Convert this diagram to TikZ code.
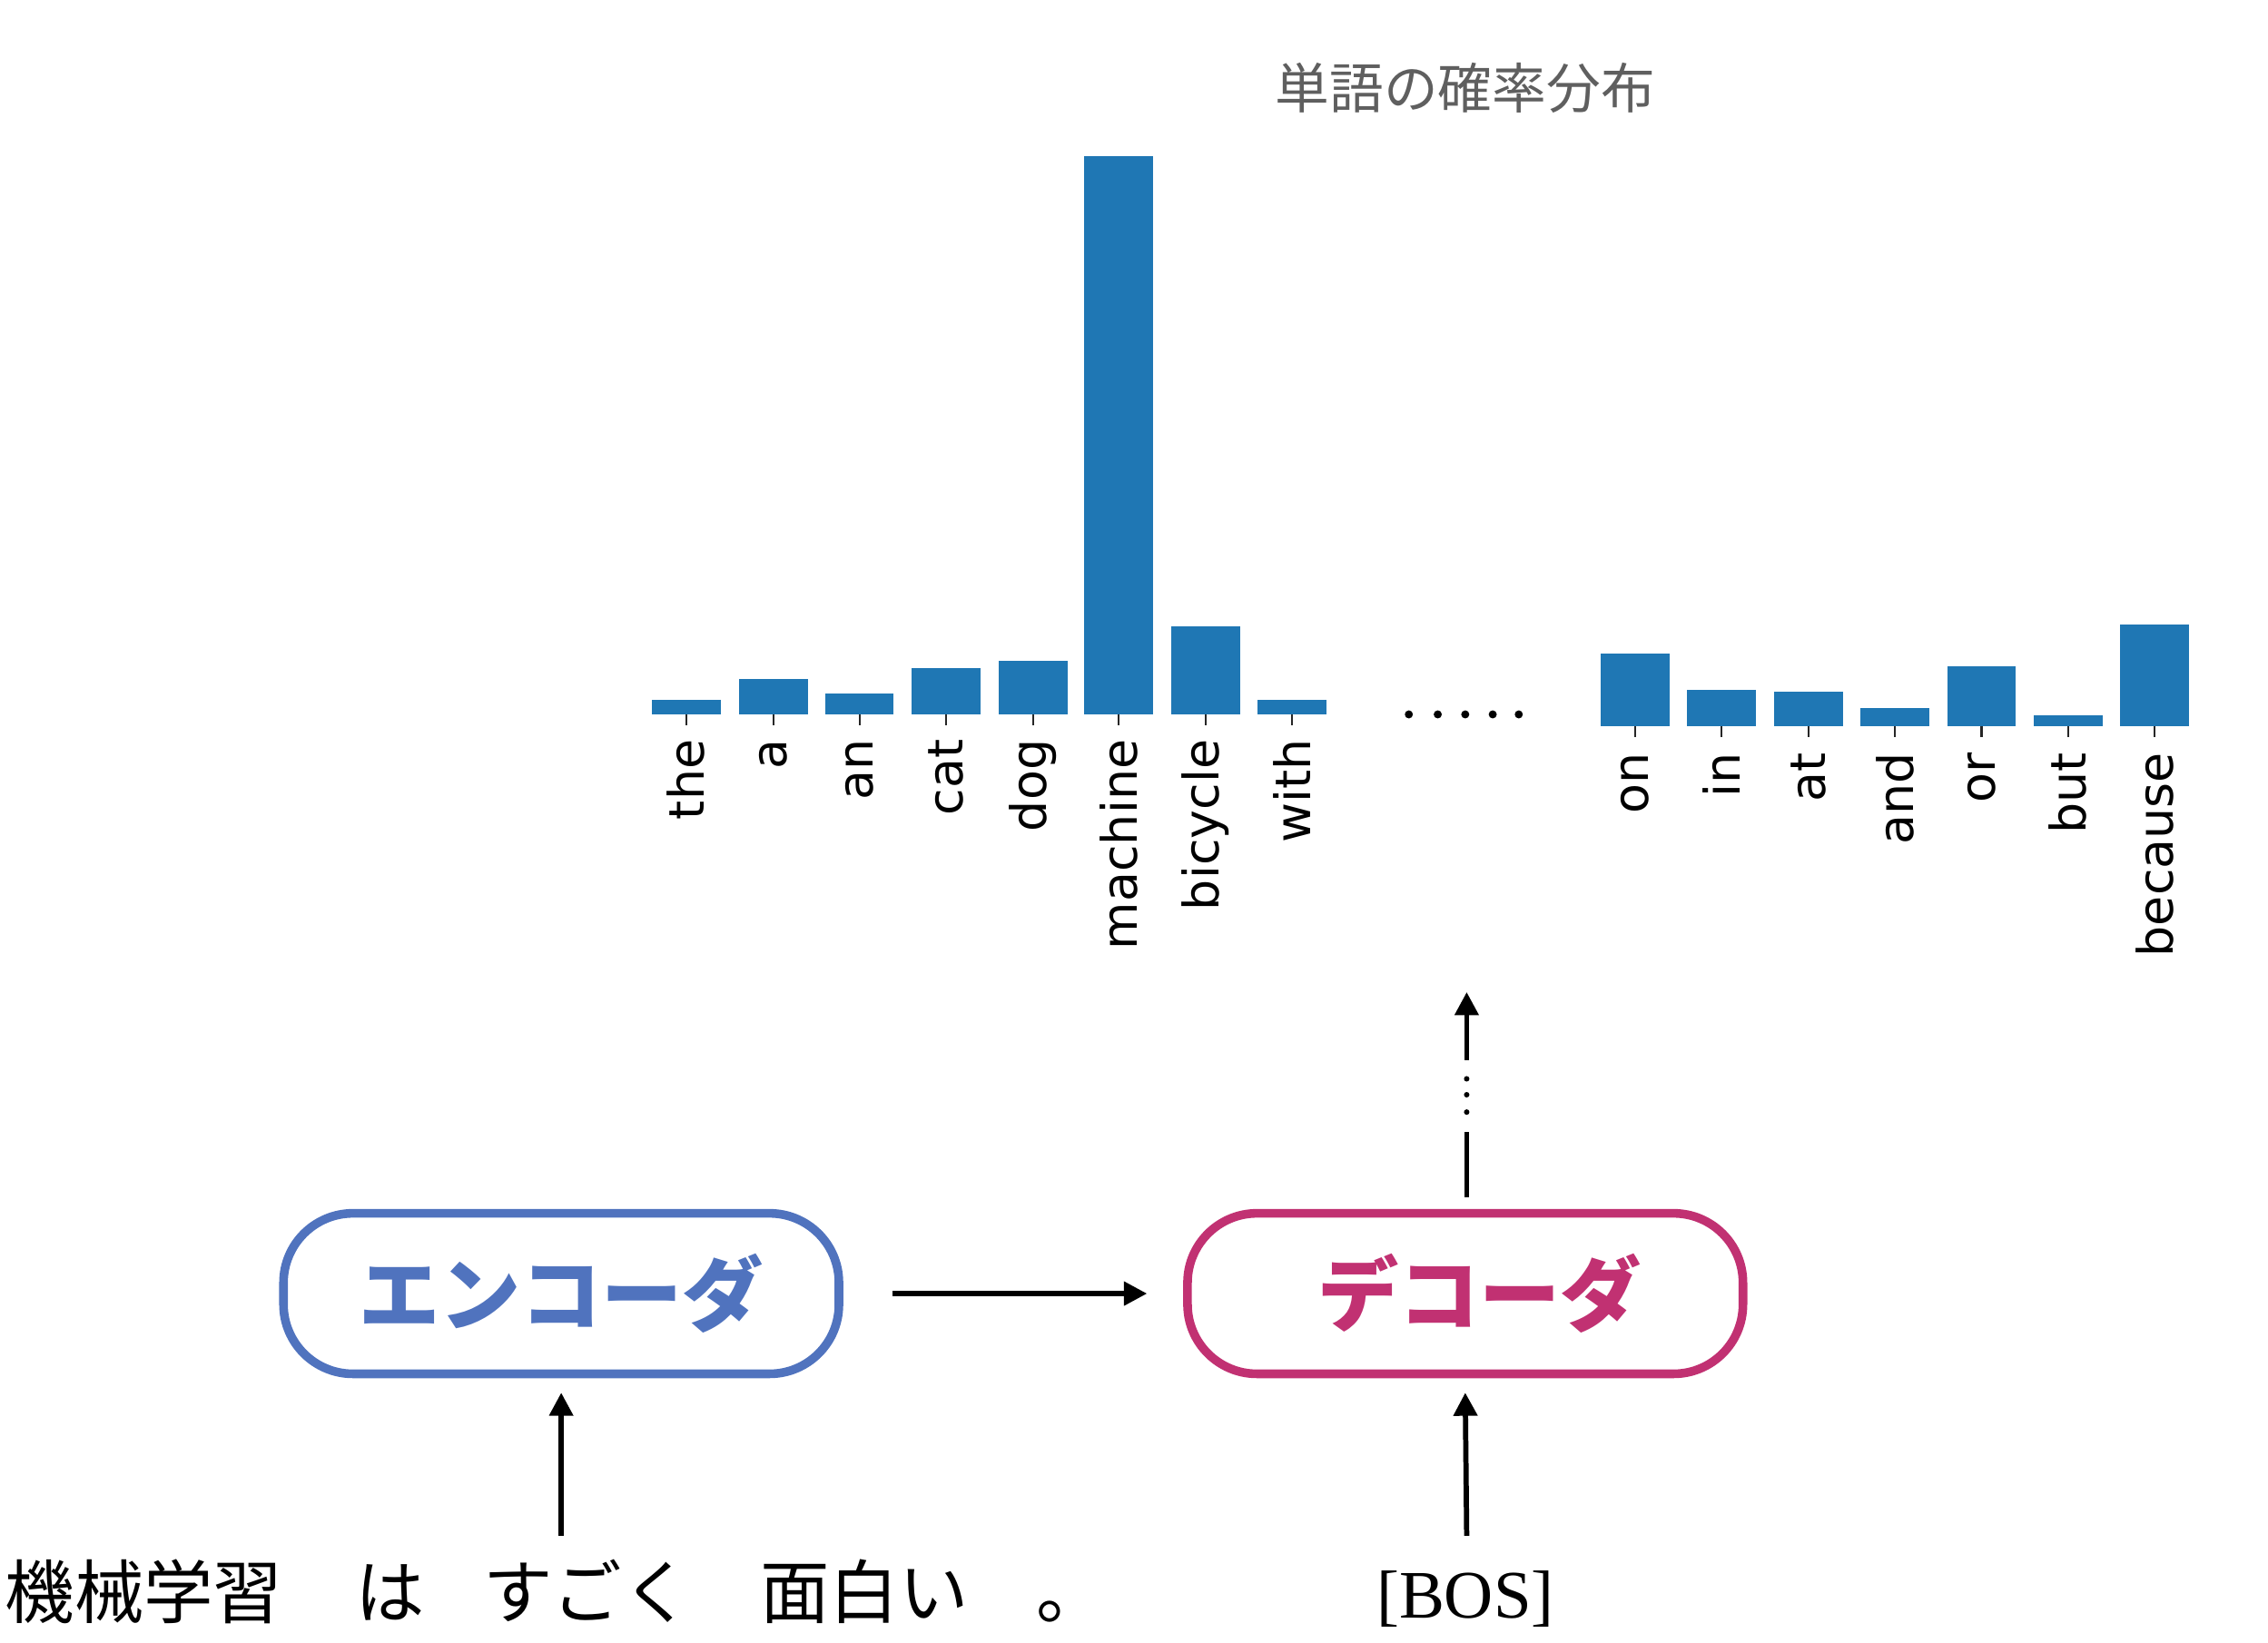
\documentclass[tikz,border=0pt]{standalone}
\usepackage{fontspec}
\setmainfont{Liberation Serif}
\newfontfamily\cjk{Noto Sans CJK JP}
\newfontfamily\labfont{DejaVu Sans}
\usetikzlibrary{arrows.meta}
\definecolor{barcol}{HTML}{1F77B4}
\definecolor{enccol}{HTML}{5073BE}
\definecolor{deccol}{HTML}{C13172}
\definecolor{titlecol}{HTML}{5F5F5F}
\tikzset{
  boxstyle/.style={line width=3pt, rounded corners=24pt, minimum width=192pt,
    minimum height=55.5pt, inner sep=0pt, font=\cjk\bfseries\fontsize{28}{30}\selectfont},
  arr/.style={line width=1.8pt, -{Triangle[length=8pt,width=8pt]}},
  plainline/.style={line width=1.8pt},
  lab/.style={rotate=90, anchor=east, inner sep=0pt, font=\labfont\fontsize{16.9}{18}\selectfont},
  tickline/.style={line width=0.7pt, black!85},
  word/.style={anchor=base, inner sep=0pt, font=\cjk\fontsize{24}{26}\selectfont},
}
\begin{document}
\begin{tikzpicture}[x=0.5pt,y=-0.5pt]
\useasboundingbox (0,0) rectangle (1568,1136);

% title
\node[anchor=base, inner sep=0pt, text=titlecol, font=\cjk\fontsize{18.75}{20}\selectfont] (title) at (1013,75) {単語の確率分布};

% left group bars
\foreach \c/\t/\w [count=\i] in {474.4/484.2/the, 534.7/469.3/a, 594.2/479.4/an, 654.0/462/cat,
   714.2/457/dog, 773.3/107.7/machine, 833.4/433/bicycle, 893.3/484.2/with} {
  \fill[barcol] (\c-23.75,494.2) rectangle (\c+23.75,\t);
  \draw[tickline] (\c,494.2) -- (\c,501.5);
  \node[lab] (lab\i) at (\c,511) {\w};
}
% right group bars
\foreach \c/\t/\w [count=\i] in {1130.5/452/on, 1190.3/477.1/in, 1250.2/478.5/at, 1310.0/489.7/and,
   1369.9/461/or, 1429.7/494.7/but, 1489.6/431.9/because} {
  \fill[barcol] (\c-23.75,502.2) rectangle (\c+23.75,\t);
  \draw[tickline] (\c,502.2) -- (\c,509.5);
  \node[lab] (rlab\i) at (\c,520) {\w};
}
% ellipsis dots
\foreach \x in {974,994,1013,1032,1050} \fill (\x,494) circle[radius=1.4pt];

% boxes
\node[boxstyle, draw=enccol, text=enccol] (enc) at (388,894.5) {エンコーダ};
\node[boxstyle, draw=deccol, text=deccol] (dec) at (1013,894.5) {\hspace*{10pt}デコーダ};

% encoder -> decoder
\draw[arr] ([xshift=17pt]enc.east) -- ([xshift=-12.5pt]dec.west);

% inputs
\node[word] (w1) at (99.5,1119) {機械学習};
\node[word] (w2) at (270,1119) {は};
\node[word] (w3) at (406,1119) {すごく};
\node[word] (w4) at (597.5,1119) {面白い};
\node[word, anchor=base west] (w5) at (716,1119) {。};
\node[anchor=base, inner sep=0pt, font=\fontsize{23.5}{25}\selectfont] (bos) at (1013,1119) {[BOS]};

\coordinate (encin) at (388,1062);
\coordinate (decin) at (1014,1062);
\draw[arr] (encin) -- ([yshift=-5pt]enc.south);
\draw[arr] (decin) -- ([yshift=-5pt]dec.south);

% decoder output
\coordinate (o1) at (1014,828);
\coordinate (o2) at (1014,783);
\coordinate (o3) at (1014,733);
\coordinate (o4) at (1014,686);
\draw[plainline] (o1) -- (o2);
\foreach \y in {746,757,769} \fill (1014,\y) circle[radius=0.95pt];
\draw[arr] (o3) -- (o4);
\end{tikzpicture}
\end{document}
